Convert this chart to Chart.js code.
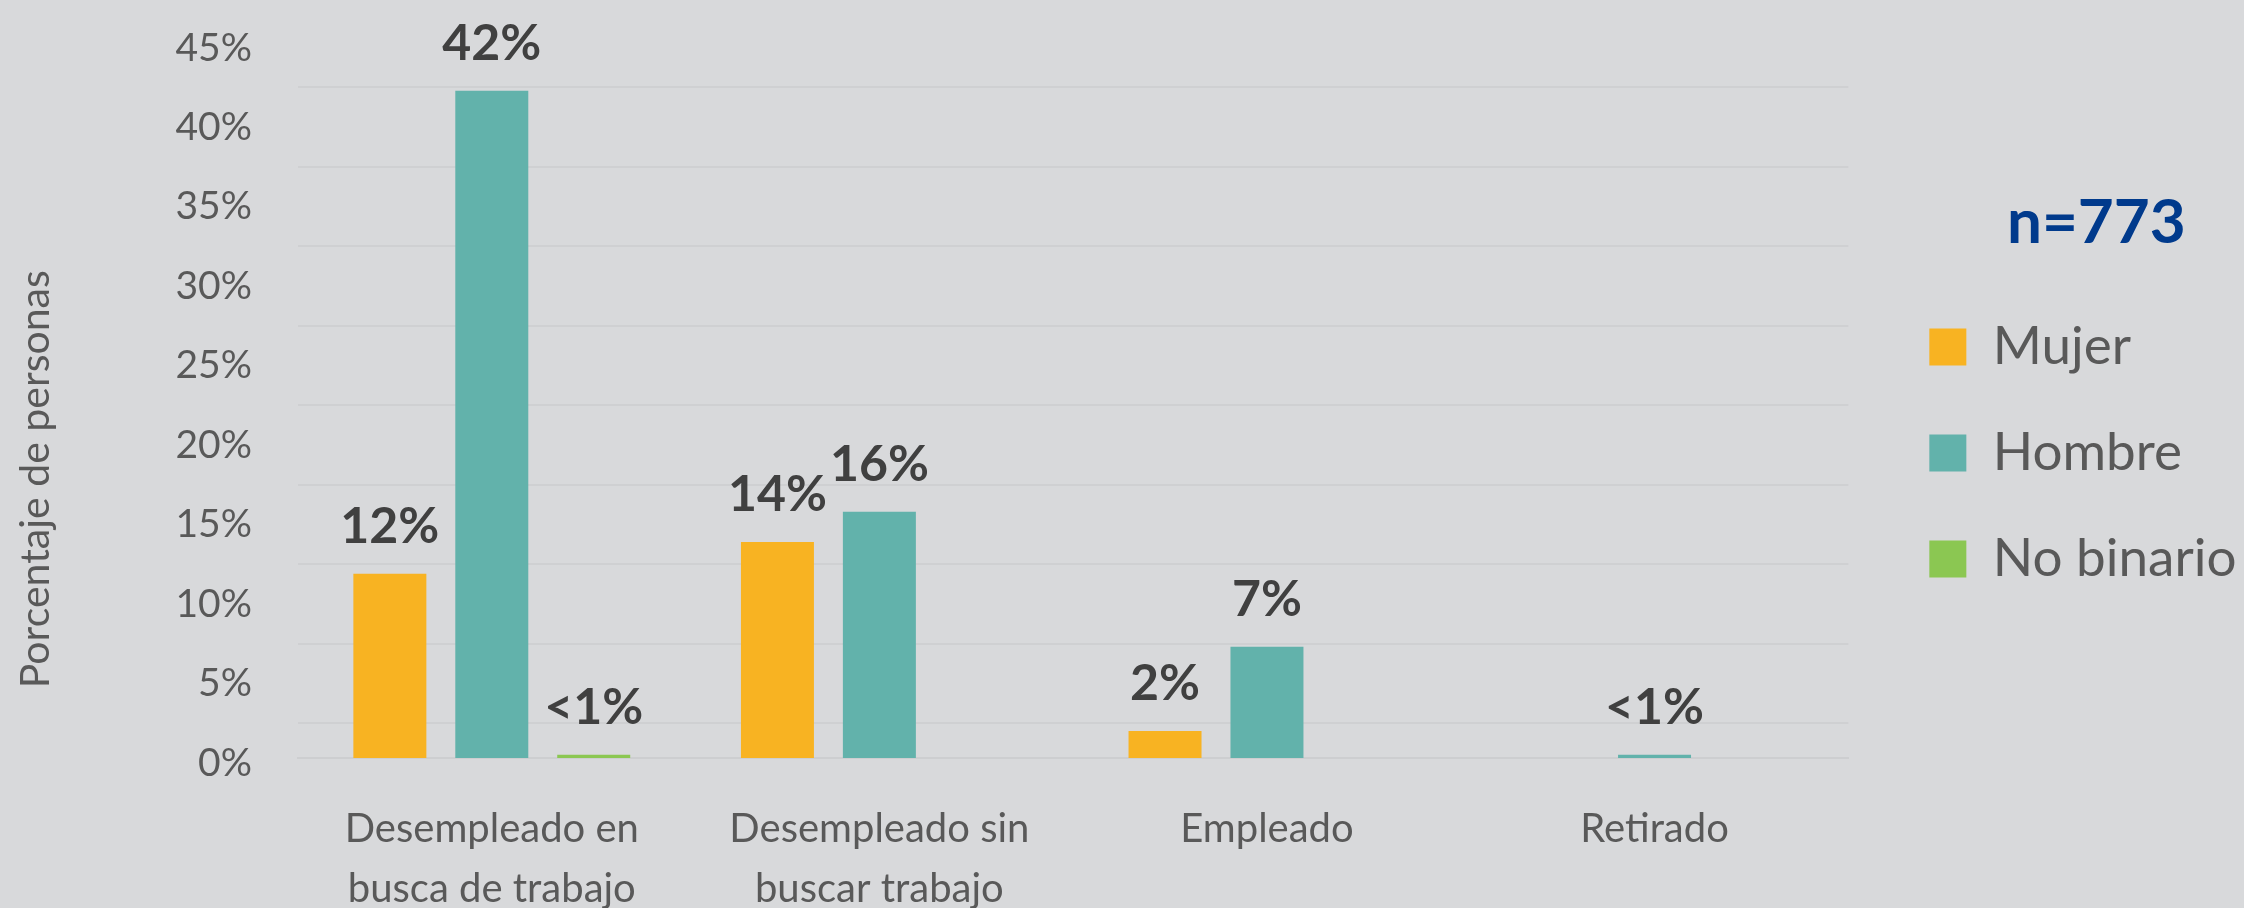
<!DOCTYPE html>
<html>
<head>
<meta charset="utf-8">
<script src="https://cdn.jsdelivr.net/npm/chart.js@4.4.1/dist/chart.umd.min.js"></script>
<style>
  html, body { margin: 0; padding: 0; background: #d8d9db; }
  #wrap { width: 2244px; height: 908px; position: relative; }
  canvas { display: block; }
</style>
</head>
<body>
<div id="wrap"><canvas id="chart" width="2244" height="908"></canvas></div>
<script>
// ---- Data ----
const categories = [
  ['Desempleado en', 'busca de trabajo'],
  ['Desempleado sin', 'buscar trabajo'],
  'Empleado',
  'Retirado'
];
const seriesNames = ['Mujer', 'Hombre', 'No binario'];
const mujer = [11.6, 13.6, 1.7, null];
const hombre = [42.0, 15.5, 7.0, 0.2];
const noBinario = [0.2, null, null, null];
const yTickValues = [0, 5, 10, 15, 20, 25, 30, 35, 40, 45];
const gridLineValues = [2.2, 7.2, 12.2, 17.2, 22.2, 27.2, 32.2, 37.2, 42.2];
const yAxisTitle = 'Porcentaje de personas';
const sampleSize = 'n=773';

// ---- Styles ----
const COLORS = ['#f8b322', '#62b2ab', '#8bc752'];
const FONT = 'Lato';
const TEXT_GREY = '#595959';
const LABEL_DARK = '#404040';

function valueLabel(v) {
  return v < 1 ? '<1%' : Math.round(v) + '%';
}

// append non-breaking spaces so the visible text is shifted by shiftPx
function padText(text, shiftPx, font, both) {
  const c = document.createElement('canvas').getContext('2d');
  c.font = font;
  const sw = c.measureText('\u00a0').width || 10;
  const n = Math.round((shiftPx * (both ? 2 : 1)) / sw);
  return text + '\u00a0'.repeat(Math.max(n, 0));
}

const barValueLabels = {
  id: 'barValueLabels',
  afterDatasetsDraw(chart) {
    const ctx = chart.ctx;
    ctx.save();
    ctx.font = 'bold 50px ' + FONT;
    ctx.fillStyle = LABEL_DARK;
    ctx.textAlign = 'center';
    ctx.textBaseline = 'alphabetic';
    chart.data.datasets.forEach((ds, i) => {
      const meta = chart.getDatasetMeta(i);
      meta.data.forEach((bar, j) => {
        const v = ds.data[j];
        if (v === null || v === undefined) return;
        ctx.fillText(valueLabel(v), bar.x, bar.y - 31);
      });
    });
    ctx.restore();
  }
};

const legendShift = {
  id: 'legendShift',
  afterLayout(chart) {
    const lg = chart.legend;
    if (lg) { lg.left += 28; lg.right += 28; }
  }
};

function build() {
  const ctx = document.getElementById('chart').getContext('2d');
  new Chart(ctx, {
    type: 'bar',
    data: {
      labels: categories,
      datasets: [
        { label: seriesNames[0], data: mujer, backgroundColor: COLORS[0], yAxisID: 'y' },
        { label: seriesNames[1], data: hombre, backgroundColor: COLORS[1], yAxisID: 'y' },
        { label: seriesNames[2], data: noBinario, backgroundColor: COLORS[2], yAxisID: 'y' }
      ]
    },
    options: {
      responsive: false,
      animation: false,
      devicePixelRatio: 1,
      datasets: { bar: { barPercentage: 0.716, categoryPercentage: 0.789 } },
      layout: { padding: { top: 43, right: 26, bottom: 0, left: 0 } },
      plugins: {
        tooltip: { enabled: false },
        legend: {
          position: 'right',
          align: 'start',
          labels: {
            boxWidth: 37,
            boxHeight: 37,
            padding: 53,
            color: TEXT_GREY,
            font: { family: FONT, size: 53 }
          },
          title: {
            display: true,
            text: padText(sampleSize, 59, 'bold 62px ' + FONT, false),
            position: 'end',
            color: '#003a8c',
            font: { family: FONT, size: 62, weight: 'bold' },
            padding: { top: 149, bottom: 1 }
          }
        }
      },
      scales: {
        x: {
          grid: { display: false, drawTicks: false },
          border: { display: true, color: '#cdced0', width: 2 },
          ticks: {
            color: TEXT_GREY,
            font: { family: FONT, size: 40, lineHeight: 1.5 },
            padding: 41,
            maxRotation: 0,
            autoSkip: false
          },
          afterFit(s) { s.height = 150; }
        },
        y: {
          position: 'left',
          min: 0,
          max: 45,
          afterBuildTicks(s) { s.ticks = yTickValues.map(v => ({ value: v })); },
          grid: { display: false, drawTicks: false },
          border: { display: false },
          ticks: {
            color: TEXT_GREY,
            font: { family: FONT, size: 39 },
            padding: 46,
            labelOffset: 5,
            callback: v => v + '%'
          },
          title: {
            display: true,
            text: padText(yAxisTitle, 77, '41px ' + FONT, true),
            color: TEXT_GREY,
            font: { family: FONT, size: 41 },
            padding: { top: 11, bottom: 0 }
          },
          afterFit(s) { s.width = 298; s.paddingTop = 0; s.paddingBottom = 0; }
        },
        yGrid: {
          position: 'left',
          min: 0,
          max: 45,
          afterBuildTicks(s) { s.ticks = gridLineValues.map(v => ({ value: v })); },
          grid: { color: '#cfd0d2', lineWidth: 2, drawTicks: false },
          border: { display: false },
          ticks: { display: false },
          afterFit(s) { s.width = 0; s.paddingTop = 0; s.paddingBottom = 0; }
        }
      }
    },
    plugins: [barValueLabels, legendShift]
  });
}

if (document.fonts && document.fonts.load) {
  Promise.all([
    document.fonts.load('39px Lato'),
    document.fonts.load('bold 50px Lato')
  ]).then(build, build);
} else {
  build();
}
</script>
</body>
</html>
